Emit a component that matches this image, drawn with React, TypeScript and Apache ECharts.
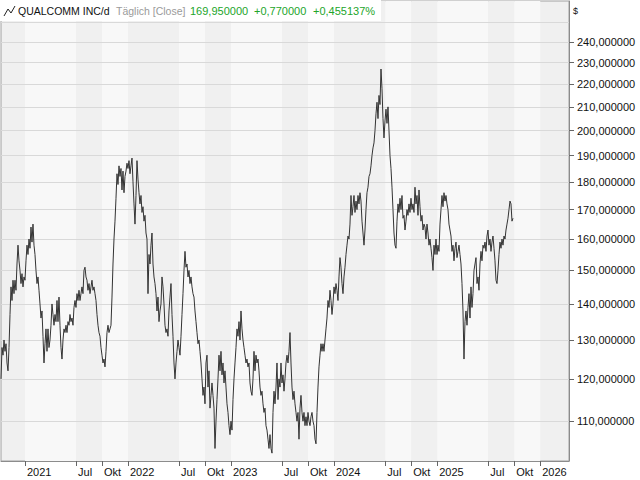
import React, { useEffect, useRef } from 'react';
import * as echarts from 'echarts';

// Closing prices (USD), roughly twice-weekly samples
const prices: number[] = [
  120, 128, 126, 130, 127, 129, 124, 122, 128, 137,
  145, 141, 147, 143, 147, 144, 152, 158, 153, 150,
  146, 149, 145, 148, 147, 153, 158, 155, 160, 157,
  164, 159, 165, 158, 155, 150, 146, 148, 144, 140,
  136, 138, 131, 124, 129, 133, 127, 133, 128, 130,
  134, 140, 137, 134, 137, 135, 141, 135, 142, 134,
  128, 125, 130, 133, 132, 134, 132, 135, 134, 137,
  135, 136, 134, 139, 141, 139, 143, 141, 144, 141,
  143, 145, 143, 150, 151, 148, 147, 144, 146, 143,
  145, 147, 144, 145, 143, 141, 137, 134, 132, 131,
  128, 126, 124, 125, 123, 127, 132, 134, 132, 133,
  134, 142, 152, 160, 166, 174, 183, 179, 186, 182,
  185, 177, 184, 176, 182, 184, 187, 185, 188, 183,
  186, 189, 180, 172, 165, 175, 188, 181, 176, 172,
  175, 169, 171, 166, 168, 162, 160, 143, 155, 152,
  158, 162, 152, 148, 146, 143, 138, 142, 135, 138,
  140, 148, 145, 140, 134, 132, 133, 131, 138, 142,
  146, 137, 131, 124, 120, 124, 127, 130, 128, 126,
  131, 137, 143, 150, 156, 151, 152, 148, 150, 146,
  148, 145, 143, 142, 138, 135, 132, 129, 130, 127,
  124, 120, 116, 118, 114, 124, 126, 118, 122, 113,
  116, 119, 116, 113, 104, 110, 115, 120, 126, 122,
  127, 121, 124, 119, 122, 118, 114, 112, 109, 107,
  110, 108, 115, 120, 124, 128, 133, 131, 135, 130,
  138, 133, 130, 128, 126, 124, 125, 123, 124, 119,
  117, 116, 120, 127, 122, 126, 124, 125, 122, 118,
  116, 117, 114, 112, 113, 109, 108, 106, 104, 107,
  104, 103, 112, 117, 114, 118, 124, 115, 120, 118,
  124, 119, 121, 117, 120, 124, 126, 124, 127, 132,
  124, 118, 115, 117, 114, 112, 110, 112, 106, 113,
  116, 112, 110, 112, 109, 111, 109, 112, 110, 109,
  111, 112, 110, 109, 106, 105, 112, 118, 123, 126,
  129, 127, 129, 127, 130, 133, 136, 141, 139, 144,
  141, 137, 140, 145, 143, 146, 144, 141, 148, 154,
  151, 146, 143, 148, 151, 155, 158, 161, 160, 165,
  175, 168, 171, 175, 169, 173, 170, 175, 172, 176,
  173, 166, 162, 158, 163, 170, 176, 178, 182, 183,
  186, 190, 193, 195, 200, 207, 212, 205, 215, 211,
  227, 218, 205, 197, 204, 209, 203, 210, 200, 190,
  185, 178, 170, 162, 158, 157, 166, 172, 169, 174,
  170, 175, 167, 168, 163, 166, 170, 168, 172, 169,
  174, 170, 172, 169, 178, 172, 175, 168, 177, 171,
  166, 168, 163, 165, 164, 160, 165, 162, 158, 160,
  157, 154, 150, 158, 155, 160, 155, 158, 156, 165,
  170, 175, 171, 176, 173, 175, 172, 170, 165, 163,
  161, 156, 158, 153, 157, 159, 154, 156, 158, 155,
  152, 146, 138, 125, 135, 138, 134, 139, 143, 136,
  145, 139, 143, 150, 152, 154, 146, 148, 144, 152,
  156, 153, 158, 157, 159, 156, 161, 163, 158, 160,
  156, 159, 161, 157, 153, 147, 146, 150, 155, 159,
  157, 160, 158, 161, 160, 163, 165, 167, 170, 173,
  172, 166, 167,
];

const firstSampleDate = Date.UTC(2020, 9, 8);
const sampleStepDays = 3.544;
const axisStartDate = Date.UTC(2020, 9, 8);
const axisEndDate = Date.UTC(2026, 3, 13);

// x-axis labelled dates: [year, monthIndex]
const xLabelMonths: [number, number][] = [
  [2021, 0], [2021, 6], [2021, 9],
  [2022, 0], [2022, 6], [2022, 9],
  [2023, 0], [2023, 6], [2023, 9],
  [2024, 0], [2024, 6], [2024, 9],
  [2025, 0], [2025, 6], [2025, 9],
  [2026, 0],
];
const monthNames: Record<number, string> = { 6: 'Jul', 9: 'Okt' };

const yTickValues = [110, 120, 130, 140, 150, 160, 170, 180, 190, 200, 210, 220, 230, 240];
const yExtraGrid = [250];
const yMin = 101.35;
const yMax = 261.1;

const header = {
  name: 'QUALCOMM INC/d',
  mode: 'Täglich [Close]',
  close: '169,950000',
  change: '+0,770000',
  changePct: '+0,455137%',
};

const FONT = 'Liberation Sans, Arial, sans-serif';

export default function App() {
  const ref = useRef<HTMLDivElement>(null);

  useEffect(() => {
    if (!ref.current) return;
    const chart = echarts.init(ref.current, undefined, { renderer: 'svg' });
    const DAY = 86400000;
    const seriesData = prices.map((p, i) => [firstSampleDate + i * sampleStepDays * DAY, p]);
    const xTicks = xLabelMonths.map(([y, m]) => Date.UTC(y, m, 1));
    const fmtX = (v: number) => {
      const d = new Date(v);
      if (d.getUTCDate() !== 1) return '';
      const m = d.getUTCMonth();
      if (m === 0) return String(d.getUTCFullYear());
      return monthNames[m] || '';
    };
    const fmtY = (v: number) => Number(v).toFixed(6).replace('.', ',');

    chart.setOption({
      animation: false,
      textStyle: { fontFamily: FONT },
      grid: {
        left: 1,
        right: 71,
        top: 1,
        bottom: 19,
        show: true,
        backgroundColor: '#f0f0f0',
        borderColor: '#a0a0a0',
        borderWidth: 1,
        containLabel: false,
        outerBoundsMode: 'none',
      },
      xAxis: {
        type: 'value',
        min: axisStartDate,
        max: axisEndDate,
        scale: true,
        axisLine: { show: true, lineStyle: { color: '#8c8c8c', width: 1 } },
        axisTick: { show: true, customValues: xTicks, length: 5, lineStyle: { color: '#666' } },
        axisLabel: {
          customValues: xTicks,
          formatter: fmtX,
          align: 'left',
          margin: 5,
          padding: [0, 0, 0, 2],
          color: '#111',
          fontSize: 11,
          fontFamily: FONT,
          hideOverlap: false,
        },
        splitLine: { show: false },
        splitArea: { show: true, areaStyle: { color: ['#f8f8f8', '#f0f0f0'] } },
      },
      yAxis: {
        type: 'log',
        logBase: 10,
        position: 'right',
        min: yMin,
        max: yMax,
        z: 1,
        axisLine: { show: true, lineStyle: { color: '#8c8c8c', width: 1 } },
        axisTick: { show: true, customValues: yTickValues, length: 5, lineStyle: { color: '#666' } },
        axisLabel: {
          customValues: yTickValues,
          formatter: fmtY,
          margin: 8,
          color: '#111',
          fontSize: 11,
          fontFamily: FONT,
        },
        splitLine: { show: true, lineStyle: { color: '#d9d9d9', width: 1 } },
      },
      series: [
        {
          type: 'line',
          data: seriesData,
          showSymbol: false,
          symbol: 'none',
          lineStyle: { color: '#333', width: 1 },
          z: 3,
          markLine: {
            silent: true,
            symbol: 'none',
            label: { show: false },
            lineStyle: { color: '#d9d9d9', width: 1, type: 'solid' },
            data: yExtraGrid.map((v) => ({ yAxis: v })),
          },
        },
      ],
      graphic: [
        { type: 'rect', z: 100, shape: { x: 0, y: 0, width: 381, height: 21 }, style: { fill: '#ffffff' } },
        {
          type: 'polyline',
          z: 101,
          shape: { points: [[4, 16], [8, 9], [11, 13], [15, 6]] },
          style: { stroke: '#222', lineWidth: 1, fill: 'none' },
        },
        { type: 'text', z: 101, x: 18, y: 11, style: { text: header.name, fill: '#111', font: `10.5px ${FONT}`, verticalAlign: 'middle' } },
        { type: 'text', z: 101, x: 116, y: 11, style: { text: header.mode, fill: '#9a9a9a', font: `10.5px ${FONT}`, verticalAlign: 'middle' } },
        { type: 'text', z: 101, x: 190, y: 11, style: { text: header.close, fill: '#22a52a', font: `11px ${FONT}`, verticalAlign: 'middle' } },
        { type: 'text', z: 101, x: 254, y: 11, style: { text: header.change, fill: '#22a52a', font: `11px ${FONT}`, verticalAlign: 'middle' } },
        { type: 'text', z: 101, x: 313, y: 11, style: { text: header.changePct, fill: '#22a52a', font: `11px ${FONT}`, verticalAlign: 'middle' } },
        { type: 'text', z: 101, x: 573, y: 11, style: { text: '$', fill: '#111', font: `9px ${FONT}`, verticalAlign: 'middle' } },
      ],
    });
    return () => chart.dispose();
  }, []);

  return (
    <div
      ref={ref}
      style={{ position: 'fixed', left: 0, top: 0, width: 640, height: 480, background: '#ffffff' }}
    />
  );
}
